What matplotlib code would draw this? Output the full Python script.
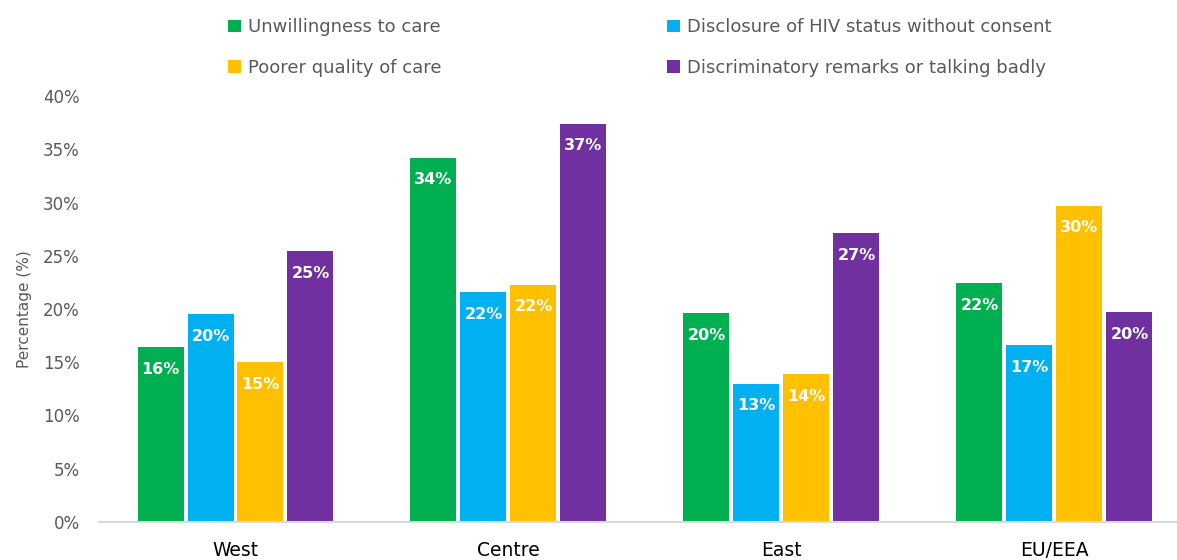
import matplotlib
matplotlib.use("Agg")
import matplotlib.pyplot as plt
import numpy as np

categories = ["West", "Centre", "East", "EU/EEA"]
series_names = ["Unwillingness to care", "Disclosure of HIV status without consent",
                "Poorer quality of care", "Discriminatory remarks or talking badly"]
unwillingness = [16.4, 34.2, 19.6, 22.4]
disclosure = [19.5, 21.6, 13.0, 16.6]
poorer = [15.0, 22.3, 13.9, 29.7]
remarks = [25.4, 37.4, 27.1, 19.7]
colors = ["#00B050", "#00B0F0", "#FFC000", "#7030A0"]
yticks = [0, 5, 10, 15, 20, 25, 30, 35, 40]

plt.rcParams['font.family'] = ['DejaVu Sans']
fig = plt.figure(figsize=(11.77, 5.6), dpi=100)
ax = fig.add_axes([99/1177, 38/560, 1 - 99/1177, (522-96)/560])

data = [unwillingness, disclosure, poorer, remarks]
x = np.arange(len(categories))
step = 50/273
width = 46/273
handles = []
for i, (vals, c, name) in enumerate(zip(data, colors, series_names)):
    pos = x + (i - 1.5) * step
    b = ax.bar(pos, vals, width=width, color=c, label=name)
    handles.append(b)
    for p, v in zip(pos, vals):
        ax.annotate(f"{round(v):d}%", xy=(p, v), xytext=(0, -16), textcoords="offset points",
                    ha="center", va="center", color="white", fontweight="bold", fontsize=11.5)

ax.set_xlim(-0.5, -0.5 + 1078/273)
ax.set_ylim(0, 40)
ax.set_yticks(yticks)
ax.set_yticklabels([f"{t}%" for t in yticks], color="#595959", fontsize=12)
ax.set_xticks(x)
ax.set_xticklabels(categories, fontsize=13.5, color="black")
ax.tick_params(axis="both", length=0)
ax.tick_params(axis="x", pad=14)
ax.tick_params(axis="y", pad=14)
for s in ["top", "right", "left"]:
    ax.spines[s].set_visible(False)
ax.spines["bottom"].set_color("#D9D9D9")
ax.spines["bottom"].set_linewidth(1.5)
ax.set_ylabel("Percentage (%)", color="#595959", fontsize=11, labelpad=8)

order = [0, 2, 1, 3]
leg = fig.legend([handles[i] for i in order], [series_names[i] for i in order],
                 ncol=2, loc="upper left", bbox_to_anchor=(212/1177, 1 - 2/560),
                 frameon=False, fontsize=13, labelcolor="#595959",
                 handlelength=0.7, handleheight=0.7, handletextpad=0.4,
                 columnspacing=12.5, labelspacing=1.25)

fig.savefig("out.png", dpi=100)
